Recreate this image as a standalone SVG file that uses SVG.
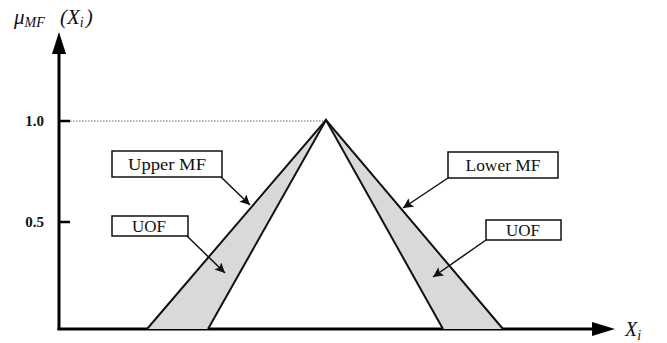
<svg xmlns="http://www.w3.org/2000/svg" width="667" height="343" viewBox="0 0 667 343">
<defs>
<style>
.axis{stroke:#000;stroke-width:3;fill:none}
.mf{stroke:#111;stroke-width:2;fill:none;stroke-linejoin:miter}
.band{fill:#d9d9d9;stroke:none}
.box{fill:#fff;stroke:#111;stroke-width:1.5}
.lbl{font-family:"Liberation Serif",serif;font-size:17px;fill:#111}
.tick{font-family:"Liberation Serif",serif;font-size:15px;font-weight:bold;fill:#111}
.math{font-family:"Liberation Serif",serif;font-style:italic;fill:#111}
.conn{stroke:#111;stroke-width:1.5;fill:none}
</style>
<marker id="ah" viewBox="0 0 10 10" refX="10" refY="5" markerWidth="10" markerHeight="10" markerUnits="userSpaceOnUse" orient="auto">
<path d="M0,0 L10,5 L0,10 L2,5 z" fill="#111"/>
</marker>
</defs>
<rect width="667" height="343" fill="#fff"/>
<g id="axes">
<line class="axis" x1="59" y1="330" x2="59" y2="50"/>
<polygon points="59,32 52,54 66,54" fill="#000"/>
<line class="axis" x1="57.5" y1="329" x2="594" y2="329"/>
<polygon points="615,329 592,322 592,336" fill="#000"/>
<line x1="59" y1="121" x2="70" y2="121" stroke="#000" stroke-width="2.5"/>
<line x1="59" y1="222" x2="70" y2="222" stroke="#000" stroke-width="2.5"/>
<line x1="70" y1="121" x2="326" y2="121" stroke="#666" stroke-width="1" stroke-dasharray="1.5,1.5"/>
<text class="tick" x="44" y="126" text-anchor="end">1.0</text>
<text class="tick" x="44" y="227" text-anchor="end">0.5</text>
<text class="math" x="14" y="24" font-size="21">μ<tspan font-size="14" dy="3">MF</tspan><tspan x="60" dy="-3">(X</tspan><tspan font-size="14" dy="3">i</tspan><tspan dy="-3" dx="2">)</tspan></text>
<text class="math" x="625" y="336" font-size="20">X<tspan font-size="14" dy="4">i</tspan></text>
</g>
<g id="mf-shapes">
<polygon class="band" points="147,329 326,120 208,329"/>
<polygon class="band" points="326,120 443,329 503,329"/>
<polyline class="mf" points="147,329 326,120 503,329"/>
<polyline class="mf" points="208,329 326,120 443,329"/>
</g>
<g id="upper-mf">
<rect class="box" x="112" y="151" width="110" height="26"/>
<text class="lbl" x="167" y="170" text-anchor="middle" textLength="78" lengthAdjust="spacingAndGlyphs">Upper MF</text>
</g>
<g id="uof-left">
<rect class="box" x="112" y="216" width="76" height="20"/>
<text class="lbl" x="149" y="232" text-anchor="middle">UOF</text>
</g>
<g id="lower-mf">
<rect class="box" x="448" y="152" width="110" height="26"/>
<text class="lbl" x="503" y="171" text-anchor="middle" textLength="75" lengthAdjust="spacingAndGlyphs">Lower MF</text>
</g>
<g id="uof-right">
<rect class="box" x="486" y="220" width="75" height="20"/>
<text class="lbl" x="523" y="236" text-anchor="middle">UOF</text>
</g>
<g id="connectors">
<line class="conn" x1="221" y1="177" x2="250" y2="205" marker-end="url(#ah)"/>
<line class="conn" x1="187" y1="236" x2="225" y2="273" marker-end="url(#ah)"/>
<line class="conn" x1="448" y1="178" x2="403" y2="208" marker-end="url(#ah)"/>
<line class="conn" x1="486" y1="240" x2="433" y2="277" marker-end="url(#ah)"/>
</g>
</svg>
